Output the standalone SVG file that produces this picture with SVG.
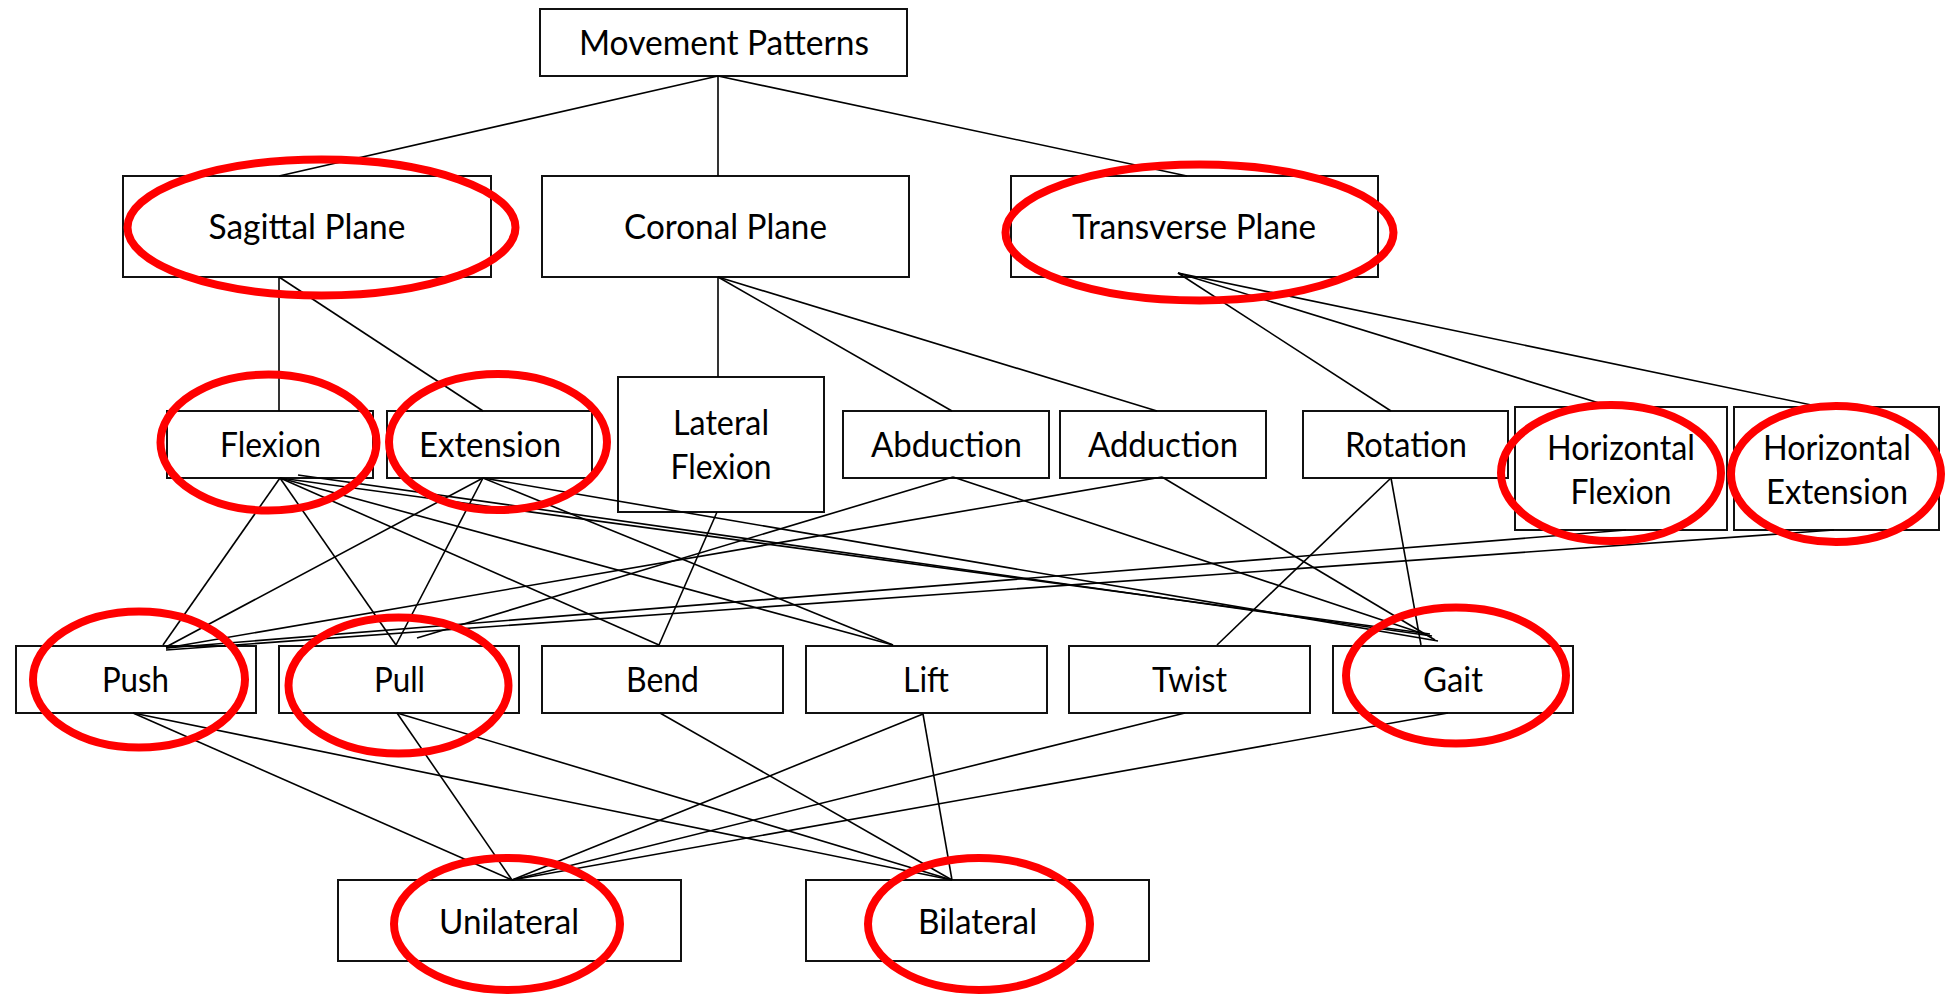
<svg xmlns="http://www.w3.org/2000/svg" width="1954" height="997" viewBox="0 0 1954 997">
<style>
.box{fill:none;stroke:#111;stroke-width:2}
.t{font-family:Lato,"Liberation Sans",sans-serif;font-size:34px;fill:#000;text-anchor:middle}
.c line{stroke:#000;stroke-width:1.6}
.hl{fill:none;stroke:#ff0000;stroke-width:8}
</style>
<rect width="1954" height="997" fill="#fff"/>
<g id="n-movement"><rect class="box" x="540" y="9" width="367" height="67"/><text class="t" x="724" y="55" textLength="290" lengthAdjust="spacingAndGlyphs">Movement Patterns</text></g>
<g id="n-sagittal"><rect class="box" x="123" y="176" width="368" height="101"/><text class="t" x="307" y="239" textLength="197" lengthAdjust="spacingAndGlyphs">Sagittal Plane</text></g>
<g id="n-coronal"><rect class="box" x="542" y="176" width="367" height="101"/><text class="t" x="725.5" y="239" textLength="203" lengthAdjust="spacingAndGlyphs">Coronal Plane</text></g>
<g id="n-transverse"><rect class="box" x="1011" y="176" width="367" height="101"/><text class="t" x="1194" y="239" textLength="244" lengthAdjust="spacingAndGlyphs">Transverse Plane</text></g>
<g id="n-flexion"><rect class="box" x="167" y="411" width="206" height="67"/><text class="t" x="270.5" y="457" textLength="101" lengthAdjust="spacingAndGlyphs">Flexion</text></g>
<g id="n-extension"><rect class="box" x="387" y="411" width="205" height="67"/><text class="t" x="490" y="457" textLength="142" lengthAdjust="spacingAndGlyphs">Extension</text></g>
<g id="n-lateral"><rect class="box" x="618" y="377" width="206" height="135"/><text class="t" x="721" y="435" textLength="96" lengthAdjust="spacingAndGlyphs">Lateral</text><text class="t" x="721" y="479" textLength="101" lengthAdjust="spacingAndGlyphs">Flexion</text></g>
<g id="n-abduction"><rect class="box" x="843" y="411" width="206" height="67"/><text class="t" x="946.5" y="457" textLength="151" lengthAdjust="spacingAndGlyphs">Abduction</text></g>
<g id="n-adduction"><rect class="box" x="1060" y="411" width="206" height="67"/><text class="t" x="1163" y="457" textLength="150" lengthAdjust="spacingAndGlyphs">Adduction</text></g>
<g id="n-rotation"><rect class="box" x="1303" y="411" width="205" height="67"/><text class="t" x="1406" y="457" textLength="122" lengthAdjust="spacingAndGlyphs">Rotation</text></g>
<g id="n-hflexion"><rect class="box" x="1515" y="407" width="212" height="123"/><text class="t" x="1621" y="460" textLength="148" lengthAdjust="spacingAndGlyphs">Horizontal</text><text class="t" x="1621" y="504" textLength="101" lengthAdjust="spacingAndGlyphs">Flexion</text></g>
<g id="n-hextension"><rect class="box" x="1734" y="407" width="205" height="123"/><text class="t" x="1837" y="460" textLength="148" lengthAdjust="spacingAndGlyphs">Horizontal</text><text class="t" x="1837" y="504" textLength="142" lengthAdjust="spacingAndGlyphs">Extension</text></g>
<g id="n-push"><rect class="box" x="16" y="646" width="240" height="67"/><text class="t" x="135.5" y="692" textLength="67" lengthAdjust="spacingAndGlyphs">Push</text></g>
<g id="n-pull"><rect class="box" x="279" y="646" width="240" height="67"/><text class="t" x="399.5" y="692" textLength="51" lengthAdjust="spacingAndGlyphs">Pull</text></g>
<g id="n-bend"><rect class="box" x="542" y="646" width="241" height="67"/><text class="t" x="662.5" y="692" textLength="73" lengthAdjust="spacingAndGlyphs">Bend</text></g>
<g id="n-lift"><rect class="box" x="806" y="646" width="241" height="67"/><text class="t" x="926" y="692" textLength="46" lengthAdjust="spacingAndGlyphs">Lift</text></g>
<g id="n-twist"><rect class="box" x="1069" y="646" width="241" height="67"/><text class="t" x="1189.5" y="692" textLength="75" lengthAdjust="spacingAndGlyphs">Twist</text></g>
<g id="n-gait"><rect class="box" x="1333" y="646" width="240" height="67"/><text class="t" x="1453" y="692" textLength="60" lengthAdjust="spacingAndGlyphs">Gait</text></g>
<g id="n-unilateral"><rect class="box" x="338" y="880" width="343" height="81"/><text class="t" x="509" y="934" textLength="140" lengthAdjust="spacingAndGlyphs">Unilateral</text></g>
<g id="n-bilateral"><rect class="box" x="806" y="880" width="343" height="81"/><text class="t" x="977.5" y="934" textLength="119" lengthAdjust="spacingAndGlyphs">Bilateral</text></g>
<g id="connectors" class="c">
<line x1="718" y1="76" x2="279" y2="176"/>
<line x1="718" y1="76" x2="718" y2="176"/>
<line x1="718" y1="76" x2="1187" y2="176"/>
<line x1="279" y1="277" x2="279" y2="411"/>
<line x1="279" y1="277" x2="483" y2="411"/>
<line x1="718" y1="277" x2="718" y2="377"/>
<line x1="718" y1="277" x2="952" y2="411"/>
<line x1="718" y1="277" x2="1157" y2="411"/>
<line x1="1178" y1="273" x2="1391" y2="411"/>
<line x1="1178" y1="273" x2="1612" y2="407"/>
<line x1="1178" y1="273" x2="1821" y2="407"/>
<line x1="280" y1="478" x2="163" y2="645"/>
<line x1="280" y1="478" x2="396" y2="645"/>
<line x1="280" y1="478" x2="659" y2="645"/>
<line x1="280" y1="478" x2="893" y2="645"/>
<line x1="298" y1="475" x2="1432" y2="636"/>
<line x1="280" y1="478" x2="1430" y2="634"/>
<line x1="483" y1="478" x2="166" y2="647"/>
<line x1="483" y1="478" x2="396" y2="645"/>
<line x1="483" y1="478" x2="893" y2="645"/>
<line x1="483" y1="478" x2="1438" y2="641"/>
<line x1="717" y1="512" x2="659" y2="645"/>
<line x1="953" y1="477" x2="417" y2="638"/>
<line x1="953" y1="477" x2="1430" y2="636"/>
<line x1="1162" y1="477" x2="166" y2="648"/>
<line x1="1162" y1="477" x2="1435" y2="640"/>
<line x1="1391" y1="478" x2="1217" y2="645"/>
<line x1="1391" y1="478" x2="1421" y2="645"/>
<line x1="1626" y1="530" x2="166" y2="648"/>
<line x1="1834" y1="530" x2="166" y2="650"/>
<line x1="133" y1="713" x2="512" y2="880"/>
<line x1="133" y1="713" x2="952" y2="880"/>
<line x1="397" y1="713" x2="512" y2="880"/>
<line x1="397" y1="713" x2="952" y2="880"/>
<line x1="660" y1="713" x2="952" y2="880"/>
<line x1="923" y1="714" x2="512" y2="880"/>
<line x1="923" y1="714" x2="952" y2="880"/>
<line x1="1185" y1="713" x2="512" y2="880"/>
<line x1="1448" y1="713" x2="512" y2="880"/>
</g>
<g id="highlights">
<ellipse class="hl" cx="321.5" cy="227.5" rx="194" ry="68"/>
<ellipse class="hl" cx="1199.5" cy="232.5" rx="194" ry="68"/>
<ellipse class="hl" cx="268.5" cy="442.5" rx="108" ry="68"/>
<ellipse class="hl" cx="498" cy="442" rx="109" ry="68"/>
<ellipse class="hl" cx="1611" cy="473" rx="110" ry="68"/>
<ellipse class="hl" cx="1836" cy="474" rx="105" ry="68"/>
<ellipse class="hl" cx="139" cy="679.5" rx="106" ry="68"/>
<ellipse class="hl" cx="398.5" cy="685.5" rx="110" ry="68"/>
<ellipse class="hl" cx="1456" cy="675.5" rx="110" ry="68"/>
<ellipse class="hl" cx="507" cy="924" rx="113" ry="66"/>
<ellipse class="hl" cx="979" cy="924" rx="111" ry="66"/>
</g>
</svg>
